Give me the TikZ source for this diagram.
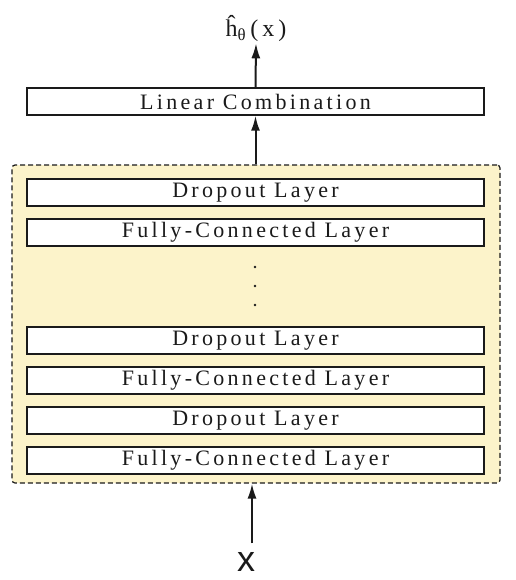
\documentclass[tikz,border=0pt]{standalone}
\usepackage{fontspec}
\setmainfont{Liberation Serif}
\newfontfamily\layerfont[LetterSpace=15]{Liberation Serif}
\newfontfamily\inputfont{Liberation Sans}
\usepackage{xcolor}
\usetikzlibrary{arrows.meta,positioning}
\definecolor{stackyellow}{HTML}{FCF3CA}
\definecolor{inkgray}{HTML}{1A1A1A}
\tikzset{
  layer/.style={draw=inkgray,line width=1.4pt,fill=white,minimum width=457pt,minimum height=27pt,inner sep=0pt,
    font=\layerfont\fontsize{22}{23}\selectfont,text=inkgray},
  flow/.style={-{Latex[length=15pt,width=9pt]},line width=2pt,inkgray},
  stackbox/.style={draw=inkgray,line width=1.2pt,dash pattern=on 5pt off 3pt,fill=stackyellow,rounded corners=3pt,
    minimum width=488pt,minimum height=318pt,inner sep=0pt}
}

\begin{document}
\begin{tikzpicture}[x=1pt,y=-1pt]
  \useasboundingbox (0,0) rectangle (515,580);
  \node[stackbox] (stack) at (256,324) {};
  \node[layer] (lin) at (255.5,101.5) {Linear Combination};
  \node[layer] (drop1) at (255.5,192.5) {Dropout Layer};
  \node[layer] (fc1) at (255.5,232.5) {Fully-Connected Layer};
  \foreach \k/\lab/\nm in {0/Dropout Layer/drop2,1/Fully-Connected Layer/fc2,2/Dropout Layer/drop3,3/Fully-Connected Layer/fc3}{
    \node[layer] (\nm) at (255.5,{340.5+40*\k}) {\lab};
  }
  \foreach \y/\nm in {267/d1,286/d2,305/d3}{
    \node[circle,fill=inkgray,inner sep=0pt,minimum size=2.8pt] (\nm) at (255,\y) {};
  }
  \node[font=\fontsize{24}{25}\selectfont,text=inkgray,inner sep=1pt] (out) at (256,29) {\^{h}\textsubscript{θ}\,(\,x\,)};
  \node[font=\inputfont\fontsize{36}{36}\selectfont,text=inkgray,inner sep=0pt,outer ysep=9pt] (in) at (246,562) {x};
  \draw[flow] (lin.north) -- (out.south);
  \draw[flow] (stack.north -| lin.south) -- (lin.south);
  \draw[flow] ([xshift=6pt]in.north) -- ([xshift=6pt]in.north |- stack.south);
\end{tikzpicture}
\end{document}
